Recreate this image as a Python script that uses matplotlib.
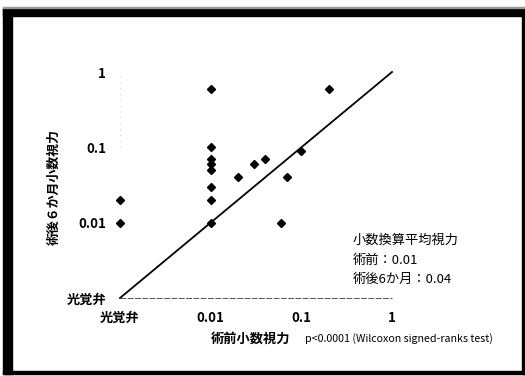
import matplotlib
matplotlib.use("Agg")
import matplotlib.pyplot as plt
from matplotlib.patches import Rectangle

plt.rcParams['font.family'] = ['Noto Sans CJK JP', 'DejaVu Sans']

# 光覚弁 (light perception) is plotted at the 0.001 position
LP = 0.001
tick_vals = [LP, 0.01, 0.1, 1]
tick_labels = ['光覚弁', '0.01', '0.1', '1']

pre_va = [LP, LP, 0.01, 0.01, 0.01, 0.01, 0.01, 0.01, 0.01, 0.01,
          0.02, 0.03, 0.04, 0.06, 0.07, 0.1, 0.2]
post_va = [0.02, 0.01, 0.6, 0.1, 0.07, 0.06, 0.05, 0.03, 0.02, 0.01,
           0.04, 0.06, 0.07, 0.01, 0.04, 0.09, 0.6]

W, H = 525, 376
fig = plt.figure(figsize=(W / 100, H / 100), dpi=100)
fig.patch.set_facecolor('white')

# outer frame
def frect(x0, y0, x1, y1, color='black'):
    fig.patches.append(Rectangle((x0 / W, 1 - y1 / H), (x1 - x0) / W, (y1 - y0) / H,
                                 transform=fig.transFigure, color=color, zorder=0))
frect(3, 8, 525, 16)
frect(3, 8, 12, 374)
frect(522, 8, 525, 374)
frect(3, 371, 525, 374)
frect(3, 7, 525, 8, color='#999999')

ax = fig.add_axes([120 / W, 1 - 298 / H, 272 / W, 226 / H])
ax.set_xscale('log')
ax.set_yscale('log')
ax.set_xlim(LP, 1)
ax.set_ylim(LP, 1)
for s in ax.spines.values():
    s.set_visible(False)
ax.set_facecolor('none')

# axis lines
ax.plot([LP, 1], [LP, LP], color='#555555', lw=0.7, ls=(0, (6, 1.5)), clip_on=False)
ax.plot([LP, LP], [0.1, 1], color='#bbbbbb', lw=0.6, ls=(0, (1, 6)), clip_on=False)
# identity line
ax.plot([LP, 1], [LP, 1], color='black', lw=1.3, clip_on=False)

ax.plot(pre_va, post_va, ls='none', marker='D', ms=4.5, color='black', clip_on=False, zorder=5)

ax.set_xticks(tick_vals)
ax.set_xticklabels(tick_labels, fontsize=9.5, fontweight='bold')
ax.set_yticks(tick_vals)
ax.set_yticklabels(tick_labels, fontsize=9.5, fontweight='bold')
ax.minorticks_off()
ax.tick_params(axis='both', length=0)
ax.tick_params(axis='x', pad=9)
ax.tick_params(axis='y', pad=10)

fig.text(251 / W, 1 - 339 / H, '術前小数視力', fontsize=9.5, fontweight='bold',
         ha='center', va='center')
fig.text(305 / W, 1 - 339 / H, 'p<0.0001 (Wilcoxon signed-ranks test)', fontsize=7.7,
         ha='left', va='center')
fig.text(54 / W, 1 - 187 / H, '術後６か月小数視力', fontsize=9.3, fontweight='bold',
         ha='center', va='center', rotation=90)

for yy, t in [(240, '小数換算平均視力'), (260, '術前：0.01'), (279, '術後6か月：0.04')]:
    fig.text(353 / W, 1 - yy / H, t, fontsize=9.5, ha='left', va='center')

fig.savefig('out.png', dpi=100)
